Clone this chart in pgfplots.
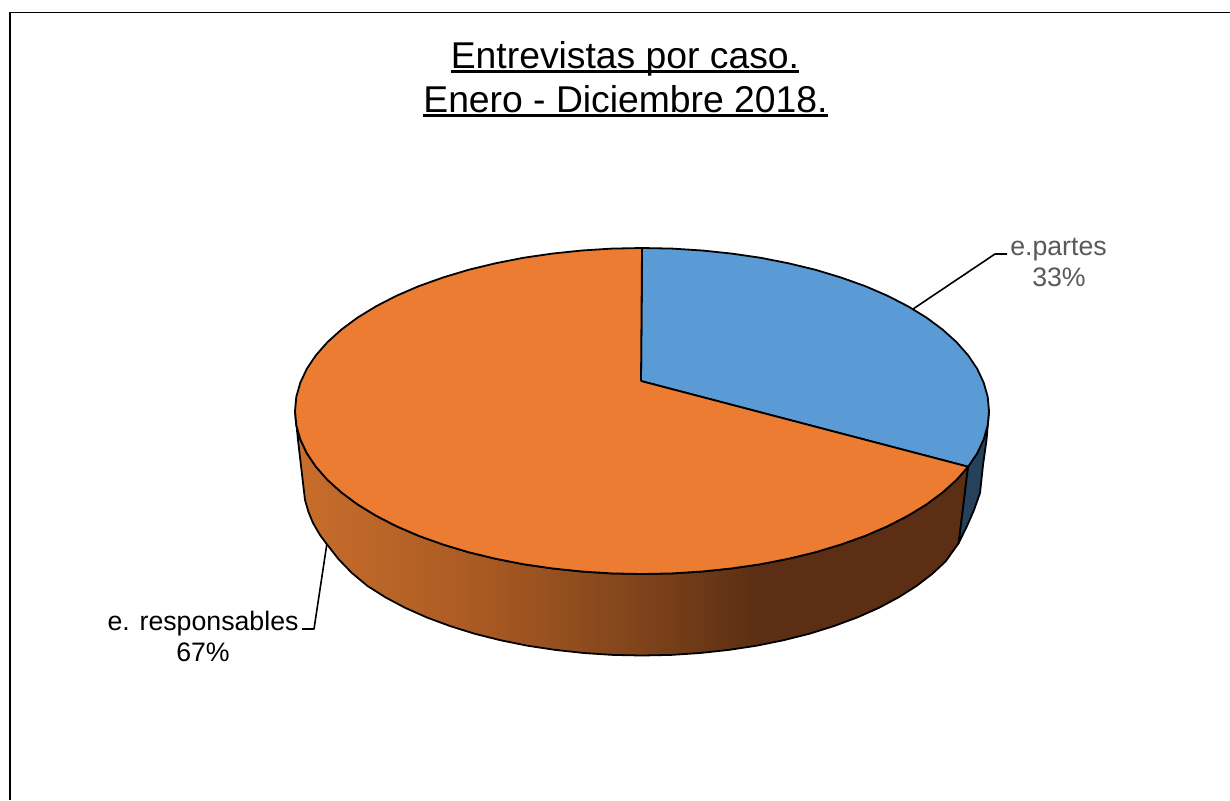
\documentclass[border=0pt]{standalone}
\usepackage{fontspec}
\setmainfont{Liberation Sans}
\usepackage{pgfplots}
\pgfplotsset{compat=1.18}
\definecolor{pieorange}{HTML}{EB7C31}
\definecolor{pieblue}{HTML}{5B9BD5}
\definecolor{sideblue}{HTML}{25415C}
\definecolor{labgray}{HTML}{595959}
\definecolor{sa}{RGB}{201,110,44}
\definecolor{sb}{RGB}{169,90,35}
\definecolor{sc}{RGB}{130,69,27}
\definecolor{sd}{RGB}{92,47,20}
\pgfdeclarehorizontalshading{orangeside}{100bp}{
  color(0bp)=(sa);
  color(25bp)=(sa);
  color(38.7bp)=(sb);
  color(49.9bp)=(sc);
  color(59.2bp)=(sd);
  color(100bp)=(sd)}
\newcommand{\ulin}[1]{\setbox0\hbox{#1}\rlap{\rule[-5pt]{\wd0}{2.6pt}}\box0}
\begin{document}
\begin{tikzpicture}
\begin{axis}[
  hide axis, scale only axis, width=1230pt, height=800pt,
  xmin=0, xmax=1230, ymin=0, ymax=800, y dir=reverse,
  clip mode=individual, line join=round]
% page
\addplot[draw=none, fill=white] coordinates {(0,0) (1230,0) (1230,800) (0,800) (0,0)};
% frame
\addplot[black, line width=1.3pt] coordinates {(1230,12.5) (10,12.5)};
\addplot[black, line width=1.7pt] coordinates {(10.3,12) (10.3,800)};
% leader lines
\addplot[black, line width=1.6pt] coordinates {(913,309) (995,254) (1007,254)};
\addplot[black, line width=1.6pt] coordinates {(327,543) (314,629) (302,629)};
% side, orange (value 67 %)
\addplot[draw=black, line width=1.8pt, shading=orangeside] coordinates {
 (295,411) (298,440) (301.5,470) (305,500) (308.5,512) (313,523) (320,535) (327.5,545) (338.4,559) (351.9,573) (367.6,586) (385.4,597.3) (405.1,607.8) (426.7,617.4) (449.9,626) (474.5,633.7) (500.4,640.2) (527.4,645.7) (555.3,649.9) (583.8,653) (612.8,654.9) (642,655.5) (671.2,654.9) (700.2,653) (728.7,649.9) (756.6,645.7) (783.6,640.2) (809.5,633.7) (834.1,626) (857.3,617.4) (878.9,607.8) (898.6,597.3) (916.4,586) (932.1,574) (945.6,561.4) (958.7,543)
 (968.1,466.7) (956.5,479.9) (942.5,492.5) (926.3,504.5) (907.8,515.8) (887.4,526.3) (865.1,535.9) (841,544.5) (815.5,552.2) (788.6,558.7) (760.7,564.2) (731.8,568.4) (702.2,571.5) (672.3,573.4) (642,574) (611.7,573.4) (581.8,571.5) (552.2,568.4) (523.3,564.2) (495.4,558.7) (468.5,552.2) (443,544.5) (418.9,535.9) (396.6,526.3) (376.2,515.8) (357.7,504.5) (341.5,492.5) (327.5,479.9) (315.9,466.7) (306.8,453.2) (300.3,439.3) (296.3,425.2) (295,411)};
% side, blue (value 33 %)
\addplot[draw=black, line width=1.8pt, fill=sideblue] coordinates {
 (989,411) (986.5,440) (983,465) (980,493) (974,510) (967,526) (958.7,543) (968.1,466.7) (977.2,453.2) (983.7,439.3) (987.7,425.2) (989,411)};
% top, blue: 33 %
\addplot[fill=pieblue, draw=black, line width=1.8pt] coordinates {
 (641,381) (642,248) (672.3,248.6) (702.2,250.5) (731.8,253.6) (760.7,257.8) (788.6,263.3) (815.5,269.8) (841,277.5) (865.1,286.1) (887.4,295.7) (907.8,306.2) (926.3,317.5) (942.5,329.5) (956.5,342.1) (968.1,355.3) (977.2,368.8) (983.7,382.7) (987.7,396.8) (989,411) (987.7,425.2) (983.7,439.3) (977.2,453.2) (968.1,466.7) (641,381)};
% top, orange: 67 %
\addplot[fill=pieorange, draw=black, line width=1.8pt] coordinates {
 (641,381) (968.1,466.7) (956.5,479.9) (942.5,492.5) (926.3,504.5) (907.8,515.8) (887.4,526.3) (865.1,535.9) (841,544.5) (815.5,552.2) (788.6,558.7) (760.7,564.2) (731.8,568.4) (702.2,571.5) (672.3,573.4) (642,574) (611.7,573.4) (581.8,571.5) (552.2,568.4) (523.3,564.2) (495.4,558.7) (468.5,552.2) (443,544.5) (418.9,535.9) (396.6,526.3) (376.2,515.8) (357.7,504.5) (341.5,492.5) (327.5,479.9) (315.9,466.7) (306.8,453.2) (300.3,439.3) (296.3,425.2) (295,411) (296.3,396.8) (300.3,382.7) (306.8,368.8) (315.9,355.3) (327.5,342.1) (341.5,329.5) (357.7,317.5) (376.2,306.2) (396.6,295.7) (418.9,286.1) (443,277.5) (468.5,269.8) (495.4,263.3) (523.3,257.8) (552.2,253.6) (581.8,250.5) (611.7,248.6) (642,248) (641,381)};
% texts
\node[anchor=base, inner sep=0pt, text=black] at (axis cs:625,68) {\fontsize{37.3}{43}\selectfont\ulin{Entrevistas por caso.}};
\node[anchor=base, inner sep=0pt, text=black] at (axis cs:625.5,112) {\fontsize{37.3}{43}\selectfont\ulin{Enero - Diciembre 2018.}};
\node[anchor=base, inner sep=0pt, text=labgray] at (axis cs:1058.5,255) {\fontsize{26.7}{31}\selectfont e.partes};
\node[anchor=base, inner sep=0pt, text=labgray] at (axis cs:1059,286) {\fontsize{26.7}{31}\selectfont 33\%};
\node[anchor=base, inner sep=0pt, text=black] at (axis cs:203,630) {\fontsize{26.7}{31}\selectfont e. responsables};
\node[anchor=base, inner sep=0pt, text=black] at (axis cs:203,661) {\fontsize{26.7}{31}\selectfont 67\%};
\end{axis}
\end{tikzpicture}
\end{document}
